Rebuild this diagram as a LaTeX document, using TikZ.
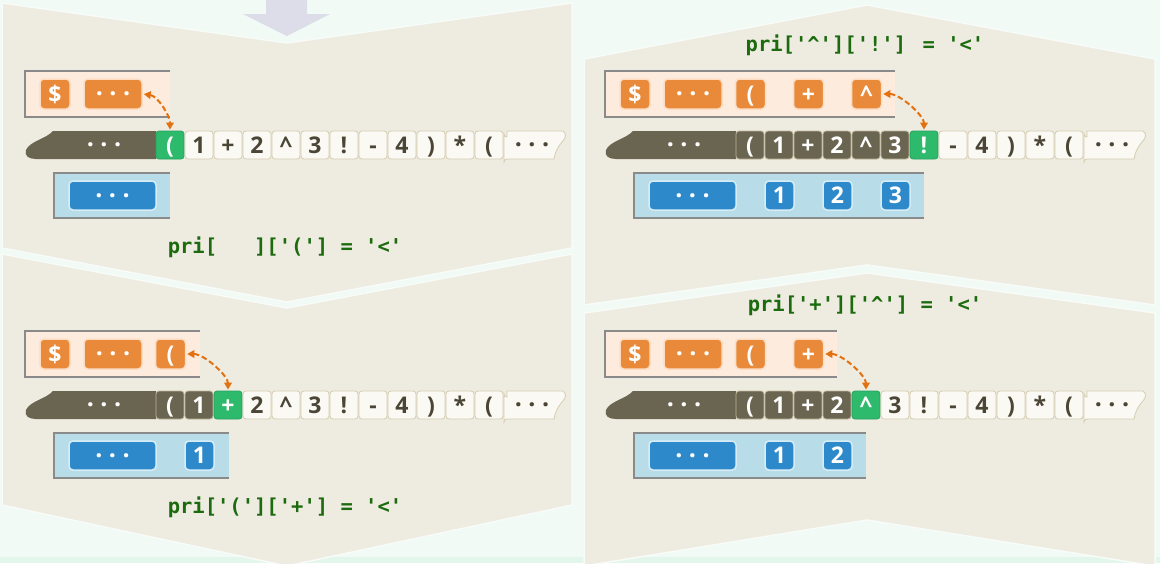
\documentclass[tikz,border=0pt]{standalone}
\usepackage{fontspec}
\newfontfamily\cellfont{Open Sans}
\newfontfamily\prifont{DejaVu Sans Mono}[Ligatures=TeXOff]
\usetikzlibrary{arrows.meta}
\definecolor{bgmint}{HTML}{F1FAF5}
\definecolor{stripc}{HTML}{E2F6EB}
\definecolor{panelc}{HTML}{EEEBE0}
\definecolor{lav}{HTML}{DCDDE8}
\definecolor{stackbg}{HTML}{FDEBDD}
\definecolor{boxgray}{HTML}{8A8A8A}
\definecolor{orng}{HTML}{E88A3A}
\definecolor{orngbd}{HTML}{FCDDC4}
\definecolor{valbg}{HTML}{B9DDE8}
\definecolor{blu}{HTML}{2E89CA}
\definecolor{blubd}{HTML}{D6EDF7}
\definecolor{tapedk}{HTML}{6A6550}
\definecolor{tapedkbd}{HTML}{BDB699}
\definecolor{cellbg}{HTML}{FAF9F4}
\definecolor{cellbd}{HTML}{D5CDB0}
\definecolor{celltx}{HTML}{4A4535}
\definecolor{cellgr}{HTML}{2DBA6C}
\definecolor{cellgrbd}{HTML}{25A35E}
\definecolor{arrorng}{HTML}{E27211}
\definecolor{prigreen}{HTML}{1C6B0E}
\newcommand\tdots{.\kern6.5pt.\kern6.5pt.}
\tikzset{
  panel/.style={fill=panelc, draw=white!40!bgmint, line width=1.5pt},
  boxbd/.style={draw=boxgray, line width=2.5pt},
  cellw/.style={draw=cellbd, fill=cellbg, rounded corners=3pt, minimum width=28pt,
    minimum height=28pt, inner sep=0pt, text height=16.5pt, text depth=0pt,
    font=\cellfont\bfseries\fontsize{23}{25}\selectfont, text=celltx, line width=0.8pt},
  celld/.style={cellw, fill=tapedk, draw=tapedkbd, text=white},
  cellg/.style={cellw, fill=cellgr, draw=cellgrbd, text=white},
  otile/.style={fill=orng, draw=orngbd, line width=1.5pt, rounded corners=4pt,
    minimum height=30pt, minimum width=30pt, inner sep=0pt, text=white,
    font=\cellfont\bfseries\fontsize{23}{25}\selectfont, text height=16.5pt, text depth=0pt},
  btile/.style={otile, fill=blu, draw=blubd, minimum height=29pt},
  dotw/.style={inner sep=0pt, text=white, font=\cellfont\bfseries\fontsize{25}{25}\selectfont},
  dotk/.style={dotw, text=celltx},
  pri/.style={font=\prifont\bfseries\fontsize{20.5}{24}\selectfont, text=prigreen, inner sep=0pt},
  oarrow/.style={draw=arrorng, line width=2pt, dash pattern=on 5.5pt off 3pt,
    {Triangle[length=7pt,width=7.5pt]}-{Triangle[length=7pt,width=7.5pt]},
    shorten <=1pt, shorten >=1pt}
}
% tape cell: prefix, index, char, style
\newcommand\tc[4]{\node[#4] (#1-c#2) at ({170+29*#2},145) {#3};}
\newcommand\tapebase[1]{%
  \fill[tapedk] (156,131) -- (53,131) .. controls (46,139) and (30,141) .. (26,150)
     .. controls (24,156) and (29,159) .. (36,159) -- (156,159) -- cycle;
  \node[dotw] (#1-tdk) at (104,145) {\tdots};
  \path[fill=cellbg, draw=cellbd, line width=0.8pt] (507,131) -- (563,131)
     .. controls (567,134) and (566,138) .. (562,142)
     .. controls (557,148) and (555,153) .. (554,159) -- (507,159)
     arc[start angle=270, end angle=180, radius=3] -- (504,134)
     arc[start angle=180, end angle=90, radius=3] -- cycle;
  \node[dotk] (#1-tend) at (532,145) {\tdots};
}
\begin{document}
\begin{tikzpicture}[x=1pt,y=-1pt]
\useasboundingbox (0,0) rectangle (1160,563);
\fill[bgmint] (0,0) rectangle (1160,563);
\fill[stripc] (0,557) rectangle (1160,563);
% background panels
\path[panel] (2,3) -- (287,43) -- (572,3) -- (572,248) -- (287,302) -- (2,248) -- cycle;
\path[panel] (2,254) -- (287,308) -- (572,254) -- (572,505) -- (287,566) -- (2,505) -- cycle;
\path[panel] (584,59) -- (867,5) -- (1155,59) -- (1155,305) -- (867,265) -- (584,305) -- cycle;
\path[panel] (584,313) -- (867,273) -- (1155,313) -- (1155,566) -- (867,520) -- (584,566) -- cycle;
\fill[lav] (266,0) -- (307,0) -- (307,14) -- (330,14) -- (287,36) -- (243,14) -- (266,14) -- cycle;

% ---------- top left ----------
\begin{scope}
\fill[stackbg] (25,71) rectangle (170,117);
\draw[boxbd] (170,71) -- (25,71) -- (25,117) -- (170,117);
\node[otile] (tl-s0) at (55,94) {\$};
\node[otile, minimum width=58pt] (tl-s1) at (113,94) {};
\node[dotw] (tl-s1d) at (tl-s1) {\tdots};
\fill[valbg] (54,173) rectangle (170,218);
\draw[boxbd] (170,173) -- (54,173) -- (54,218) -- (170,218);
\node[btile, minimum width=87pt] (tl-v0) at (112.5,195.5) {};
\node[dotw] (tl-v0d) at (tl-v0) {\tdots};
\tapebase{tl}
\tc{tl}{0}{(}{cellg}\tc{tl}{1}{1}{cellw}\tc{tl}{2}{+}{cellw}\tc{tl}{3}{2}{cellw}
\tc{tl}{4}{\textasciicircum}{cellw}\tc{tl}{5}{3}{cellw}\tc{tl}{6}{!}{cellw}\tc{tl}{7}{-}{cellw}
\tc{tl}{8}{4}{cellw}\tc{tl}{9}{)}{cellw}\tc{tl}{10}{*}{cellw}\tc{tl}{11}{(}{cellw}
\node[pri] (tl-lbl) at (285,247) {pri[\phantom{'\$'}]['('] = '<'};
\draw[oarrow] (tl-s1.east) .. controls +(15,2) and +(0,-15) .. (tl-c0.north);
\end{scope}

% ---------- bottom left ----------
\begin{scope}[shift={(0,260)}]
\fill[stackbg] (25,71) rectangle (200,117);
\draw[boxbd] (200,71) -- (25,71) -- (25,117) -- (200,117);
\node[otile] (bl-s0) at (55,94) {\$};
\node[otile, minimum width=58pt] (bl-s1) at (113,94) {};
\node[dotw] (bl-s1d) at (bl-s1) {\tdots};
\node[otile] (bl-s2) at (170.5,94) {(};
\fill[valbg] (54,173) rectangle (229,218);
\draw[boxbd] (229,173) -- (54,173) -- (54,218) -- (229,218);
\node[btile, minimum width=87pt] (bl-v0) at (112.5,195.5) {};
\node[dotw] (bl-v0d) at (bl-v0) {\tdots};
\node[btile, minimum width=29pt] (bl-v1) at (199.5,195.5) {1};
\tapebase{bl}
\tc{bl}{0}{(}{celld}\tc{bl}{1}{1}{celld}\tc{bl}{2}{+}{cellg}\tc{bl}{3}{2}{cellw}
\tc{bl}{4}{\textasciicircum}{cellw}\tc{bl}{5}{3}{cellw}\tc{bl}{6}{!}{cellw}\tc{bl}{7}{-}{cellw}
\tc{bl}{8}{4}{cellw}\tc{bl}{9}{)}{cellw}\tc{bl}{10}{*}{cellw}\tc{bl}{11}{(}{cellw}
\node[pri] (bl-lbl) at (285,247) {pri['(']['+'] = '<'};
\draw[oarrow] (bl-s2.east) .. controls +(18,0) and +(0,-15) .. (bl-c2.north);
\end{scope}

% ---------- top right ----------
\begin{scope}[shift={(580,0)}]
\fill[stackbg] (25,71) rectangle (315,117);
\draw[boxbd] (315,71) -- (25,71) -- (25,117) -- (315,117);
\node[otile] (tr-s0) at (55,94) {\$};
\node[otile, minimum width=58pt] (tr-s1) at (113,94) {};
\node[dotw] (tr-s1d) at (tr-s1) {\tdots};
\node[otile] (tr-s2) at (170.5,94) {(};
\node[otile] (tr-s3) at (228.5,94) {+};
\node[otile] (tr-s4) at (286.5,94) {\textasciicircum};
\fill[valbg] (54,173) rectangle (344,218);
\draw[boxbd] (344,173) -- (54,173) -- (54,218) -- (344,218);
\node[btile, minimum width=87pt] (tr-v0) at (112.5,195.5) {};
\node[dotw] (tr-v0d) at (tr-v0) {\tdots};
\node[btile, minimum width=29pt] (tr-v1) at (199.5,195.5) {1};
\node[btile, minimum width=29pt] (tr-v2) at (257.5,195.5) {2};
\node[btile, minimum width=29pt] (tr-v3) at (315.5,195.5) {3};
\tapebase{tr}
\tc{tr}{0}{(}{celld}\tc{tr}{1}{1}{celld}\tc{tr}{2}{+}{celld}\tc{tr}{3}{2}{celld}
\tc{tr}{4}{\textasciicircum}{celld}\tc{tr}{5}{3}{celld}\tc{tr}{6}{!}{cellg}\tc{tr}{7}{-}{cellw}
\tc{tr}{8}{4}{cellw}\tc{tr}{9}{)}{cellw}\tc{tr}{10}{*}{cellw}\tc{tr}{11}{(}{cellw}
\node[pri] (tr-lbl) at (285,45) {pri['\textasciicircum']['!'] = '<'};
\draw[oarrow] (tr-s4.east) .. controls +(18,0) and +(0,-15) .. (tr-c6.north);
\end{scope}

% ---------- bottom right ----------
\begin{scope}[shift={(580,260)}]
\fill[stackbg] (25,71) rectangle (257,117);
\draw[boxbd] (257,71) -- (25,71) -- (25,117) -- (257,117);
\node[otile] (br-s0) at (55,94) {\$};
\node[otile, minimum width=58pt] (br-s1) at (113,94) {};
\node[dotw] (br-s1d) at (br-s1) {\tdots};
\node[otile] (br-s2) at (170.5,94) {(};
\node[otile] (br-s3) at (228.5,94) {+};
\fill[valbg] (54,173) rectangle (286,218);
\draw[boxbd] (286,173) -- (54,173) -- (54,218) -- (286,218);
\node[btile, minimum width=87pt] (br-v0) at (112.5,195.5) {};
\node[dotw] (br-v0d) at (br-v0) {\tdots};
\node[btile, minimum width=29pt] (br-v1) at (199.5,195.5) {1};
\node[btile, minimum width=29pt] (br-v2) at (257.5,195.5) {2};
\tapebase{br}
\tc{br}{0}{(}{celld}\tc{br}{1}{1}{celld}\tc{br}{2}{+}{celld}\tc{br}{3}{2}{celld}
\tc{br}{4}{\textasciicircum}{cellg}\tc{br}{5}{3}{cellw}\tc{br}{6}{!}{cellw}\tc{br}{7}{-}{cellw}
\tc{br}{8}{4}{cellw}\tc{br}{9}{)}{cellw}\tc{br}{10}{*}{cellw}\tc{br}{11}{(}{cellw}
\node[pri] (br-lbl) at (285,45) {pri['+']['\textasciicircum'] = '<'};
\draw[oarrow] (br-s3.east) .. controls +(18,0) and +(0,-15) .. (br-c4.north);
\end{scope}
\end{tikzpicture}
\end{document}
